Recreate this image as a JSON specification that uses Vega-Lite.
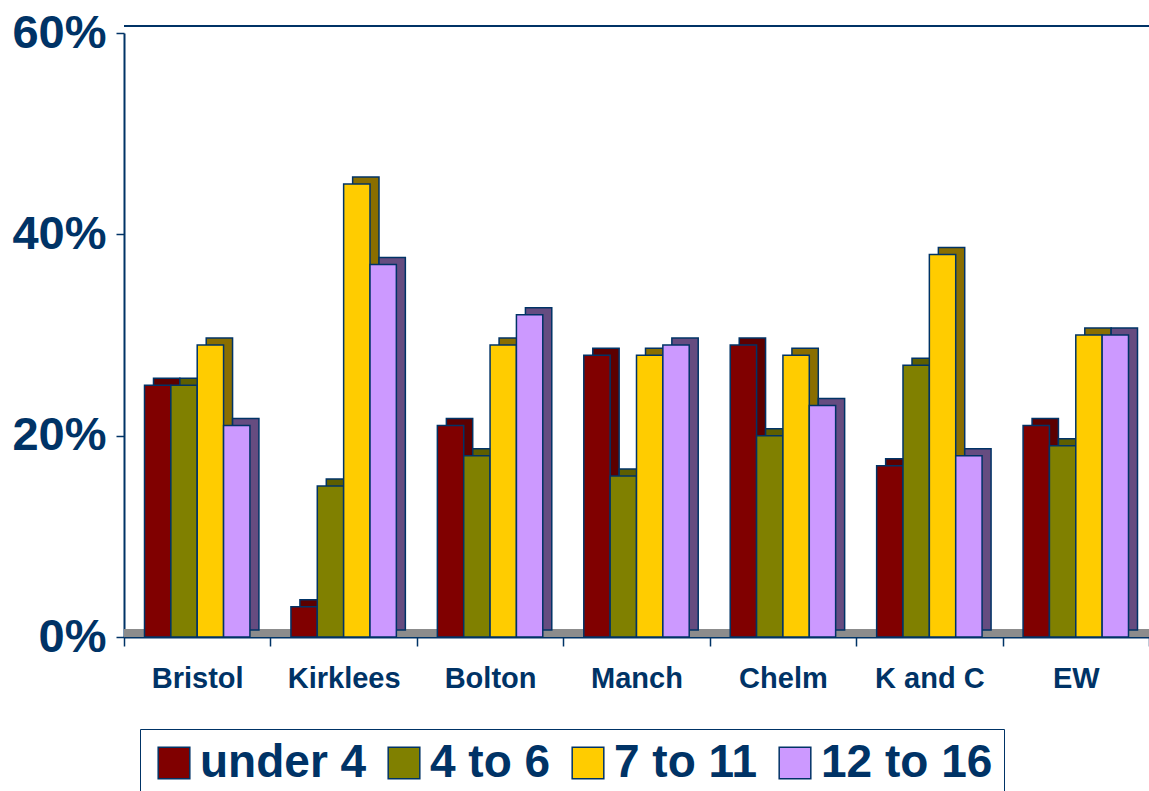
{
  "$schema": "https://vega.github.io/schema/vega-lite/v6.json",
  "autosize": "none",
  "width": 1025,
  "height": 604,
  "padding": {"left": 124, "top": 33, "right": 0, "bottom": 154},
  "background": "white",
  "config": {
    "view": {"stroke": null},
    "font": "Liberation Sans"
  },
  "data": {
    "values": [
      {"area": "Bristol", "age": "under 4", "share": 0.25},
      {"area": "Bristol", "age": "4 to 6", "share": 0.25},
      {"area": "Bristol", "age": "7 to 11", "share": 0.29},
      {"area": "Bristol", "age": "12 to 16", "share": 0.21},
      {"area": "Kirklees", "age": "under 4", "share": 0.03},
      {"area": "Kirklees", "age": "4 to 6", "share": 0.15},
      {"area": "Kirklees", "age": "7 to 11", "share": 0.45},
      {"area": "Kirklees", "age": "12 to 16", "share": 0.37},
      {"area": "Bolton", "age": "under 4", "share": 0.21},
      {"area": "Bolton", "age": "4 to 6", "share": 0.18},
      {"area": "Bolton", "age": "7 to 11", "share": 0.29},
      {"area": "Bolton", "age": "12 to 16", "share": 0.32},
      {"area": "Manch", "age": "under 4", "share": 0.28},
      {"area": "Manch", "age": "4 to 6", "share": 0.16},
      {"area": "Manch", "age": "7 to 11", "share": 0.28},
      {"area": "Manch", "age": "12 to 16", "share": 0.29},
      {"area": "Chelm", "age": "under 4", "share": 0.29},
      {"area": "Chelm", "age": "4 to 6", "share": 0.20},
      {"area": "Chelm", "age": "7 to 11", "share": 0.28},
      {"area": "Chelm", "age": "12 to 16", "share": 0.23},
      {"area": "K and C", "age": "under 4", "share": 0.17},
      {"area": "K and C", "age": "4 to 6", "share": 0.27},
      {"area": "K and C", "age": "7 to 11", "share": 0.38},
      {"area": "K and C", "age": "12 to 16", "share": 0.18},
      {"area": "EW", "age": "under 4", "share": 0.21},
      {"area": "EW", "age": "4 to 6", "share": 0.19},
      {"area": "EW", "age": "7 to 11", "share": 0.30},
      {"area": "EW", "age": "12 to 16", "share": 0.30}
    ]
  },
  "encoding": {
    "x": {
      "field": "area",
      "type": "nominal",
      "sort": ["Bristol", "Kirklees", "Bolton", "Manch", "Chelm", "K and C", "EW"],
      "scale": {"paddingInner": 0, "paddingOuter": 0},
      "axis": {
        "title": null,
        "labelAngle": 0,
        "labelFont": "Liberation Sans",
        "labelFontSize": 29,
        "labelFontWeight": "bold",
        "labelColor": "#003366",
        "labelPadding": 18,
        "tickBand": "extent",
        "tickSize": 9,
        "tickColor": "#003366",
        "tickWidth": 1.5,
        "domainColor": "#003366",
        "domainWidth": 2
      }
    },
    "y": {
      "field": "share",
      "type": "quantitative",
      "scale": {"domain": [0, 0.6]},
      "axis": {
        "title": null,
        "values": [0, 0.2, 0.4, 0.6],
        "format": ".0%",
        "grid": false,
        "labelFont": "Liberation Sans",
        "labelFontSize": 47,
        "labelFontWeight": "bold",
        "labelColor": "#003366",
        "labelPadding": 10,
        "tickSize": 8,
        "tickColor": "#003366",
        "tickWidth": 1.5,
        "domainColor": "#003366",
        "domainWidth": 2
      }
    }
  },
  "layer": [
    {
      "mark": {"type": "rule", "color": "#003366", "strokeWidth": 2, "yOffset": -7},
      "encoding": {"y": {"datum": 0.6}, "x": null}
    },
    {
      "mark": {"type": "rule", "color": "#8c8c8c", "strokeWidth": 7, "yOffset": -4},
      "encoding": {"y": {"datum": 0}, "x": null}
    },
    {
      "mark": {"type": "bar", "yOffset": -7, "stroke": "#003366", "strokeWidth": 1.5},
      "encoding": {
        "xOffset": {
          "field": "age",
          "type": "nominal",
          "sort": ["under 4", "4 to 6", "7 to 11", "12 to 16"],
          "scale": {"paddingInner": 0, "paddingOuter": 0.778, "range": [9, 155.43]}
        },
        "color": {
          "field": "age",
          "type": "nominal",
          "scale": {
            "domain": ["12 to 16", "7 to 11", "4 to 6", "under 4"],
            "range": ["#664c80", "#8a6e00", "#5e5e00", "#5c0000"]
          },
          "legend": null
        }
      }
    },
    {
      "mark": {"type": "bar", "stroke": "#003366", "strokeWidth": 1.5},
      "encoding": {
        "xOffset": {
          "field": "age",
          "type": "nominal",
          "sort": ["under 4", "4 to 6", "7 to 11", "12 to 16"],
          "scale": {"paddingInner": 0, "paddingOuter": 0.778}
        },
        "fill": {
          "field": "age",
          "type": "nominal",
          "sort": ["under 4", "4 to 6", "7 to 11", "12 to 16"],
          "scale": {
            "domain": ["under 4", "4 to 6", "7 to 11", "12 to 16"],
            "range": ["#800000", "#808000", "#FFCC00", "#CC99FF"]
          },
          "legend": {
            "title": null,
            "orient": "none",
            "legendX": 16,
            "legendY": 696,
            "direction": "horizontal",
            "columns": 4,
            "symbolType": "square",
            "symbolSize": 1000,
            "symbolStrokeColor": "#003366",
            "symbolStrokeWidth": 1.5,
            "labelFont": "Liberation Sans",
            "labelFontSize": 46,
            "labelFontWeight": "bold",
            "labelColor": "#003366",
            "labelOffset": 3,
            "columnPadding": 14,
            "padding": 11,
            "strokeColor": "#003366",
            "fillColor": "white",
            "labelLimit": 400
          }
        }
      }
    }
  ],
  "resolve": {"scale": {"xOffset": "independent"}}
}
